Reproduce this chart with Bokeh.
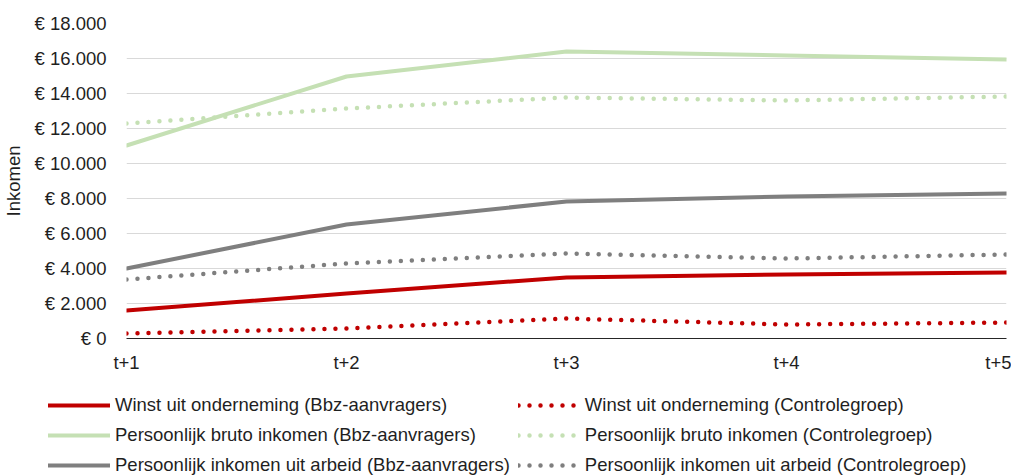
from bokeh.plotting import figure
from bokeh.models import FixedTicker, Legend, LegendItem, ColumnDataSource
from bokeh.layouts import column
from bokeh.embed import file_html
from bokeh.resources import INLINE

periods = [1, 2, 3, 4, 5]
period_labels = ["t+1", "t+2", "t+3", "t+4", "t+5"]

winst_bbz = [1600, 2570, 3490, 3660, 3770]
winst_ctrl = [290, 570, 1140, 800, 910]
bruto_bbz = [11030, 14970, 16400, 16170, 15940]
bruto_ctrl = [12290, 13140, 13770, 13600, 13830]
arbeid_bbz = [4000, 6510, 7830, 8110, 8290]
arbeid_ctrl = [3370, 4290, 4860, 4570, 4800]

y_ticks = [0, 2000, 4000, 6000, 8000, 10000, 12000, 14000, 16000, 18000]

series = [
    ("Winst uit onderneming (Bbz-aanvragers)", winst_bbz, "#c00000", "solid"),
    ("Persoonlijk bruto inkomen (Bbz-aanvragers)", bruto_bbz, "#c5e0b4", "solid"),
    ("Persoonlijk inkomen uit arbeid (Bbz-aanvragers)", arbeid_bbz, "#7f7f7f", "solid"),
    ("Winst uit onderneming (Controlegroep)", winst_ctrl, "#c00000", "dot"),
    ("Persoonlijk bruto inkomen (Controlegroep)", bruto_ctrl, "#c5e0b4", "dot"),
    ("Persoonlijk inkomen uit arbeid (Controlegroep)", arbeid_ctrl, "#7f7f7f", "dot"),
]

FONT = "Liberation Sans"
TXT = "#1f1f1f"
FS = "18.5px"


def style_kwargs(color, style):
    if style == "solid":
        return dict(line_color=color, line_width=4, line_cap="round")
    return dict(line_color=color, line_width=4.5, line_dash="0 11", line_cap="round")


p = figure(width=1011, height=378, output_backend="svg", toolbar_location=None,
           x_range=(1, 5), y_range=(0, 18000),
           min_border_left=122, min_border_right=5, min_border_top=23, min_border_bottom=40)
p.outline_line_color = None
p.frame_align = False

for name, vals, color, style in series:
    src = ColumnDataSource(dict(x=periods, y=vals))
    p.line("x", "y", source=src, **style_kwargs(color, style))

p.xaxis.ticker = FixedTicker(ticks=periods)
p.xaxis.major_label_overrides = {k: v for k, v in zip(periods, period_labels)}
p.xaxis.major_tick_line_color = None
p.xaxis.minor_tick_line_color = None
p.xaxis.axis_line_color = "#262626"
p.xaxis.axis_line_width = 1
p.xaxis.major_label_text_font = FONT
p.xaxis.major_label_text_font_size = FS
p.xaxis.major_label_text_color = TXT
p.xaxis.major_label_standoff = 7

p.yaxis.ticker = FixedTicker(ticks=y_ticks)
p.yaxis.major_label_overrides = {t: "€ " + f"{t:,}".replace(",", ".") for t in y_ticks}
p.yaxis.major_tick_line_color = None
p.yaxis.minor_tick_line_color = None
p.yaxis.axis_line_color = None
p.yaxis.major_label_text_font = FONT
p.yaxis.major_label_text_font_size = FS
p.yaxis.major_label_text_color = TXT
p.yaxis.major_label_standoff = 14
p.yaxis.axis_label = "Inkomen"
p.yaxis.axis_label_text_font = FONT
p.yaxis.axis_label_text_font_size = FS
p.yaxis.axis_label_text_font_style = "normal"
p.yaxis.axis_label_text_color = TXT
p.yaxis.axis_label_standoff = 7

p.xgrid.grid_line_color = None
p.ygrid.grid_line_color = "#d9d9d9"
p.ygrid.grid_line_width = 1

# legend panel: a separate figure so the legend may span the full width;
# its lines hold the same series but fall outside its (empty) view
lg = figure(width=1011, height=98, output_backend="svg", toolbar_location=None,
            x_range=(0, 1), y_range=(-2, -1), min_border=0)
lg.outline_line_color = None
lg.axis.visible = False
lg.grid.visible = False
lg.frame_align = False

items = []
for name, vals, color, style in series:
    r = lg.line(x=periods, y=vals, **style_kwargs(color, style))
    items.append(LegendItem(label=name, renderers=[r]))

legend = Legend(items=items, orientation="vertical", ncols=2,
                location=(48, 0),
                glyph_width=62, glyph_height=22, label_height=22,
                label_standoff=5, spacing=8, padding=0, margin=0,
                border_line_color=None, background_fill_alpha=0,
                label_text_font=FONT, label_text_font_size=FS,
                label_text_color=TXT)
lg.add_layout(legend, "center")

layout = column(p, lg, spacing=0)
open("out.html", "w").write(file_html(layout, INLINE))
